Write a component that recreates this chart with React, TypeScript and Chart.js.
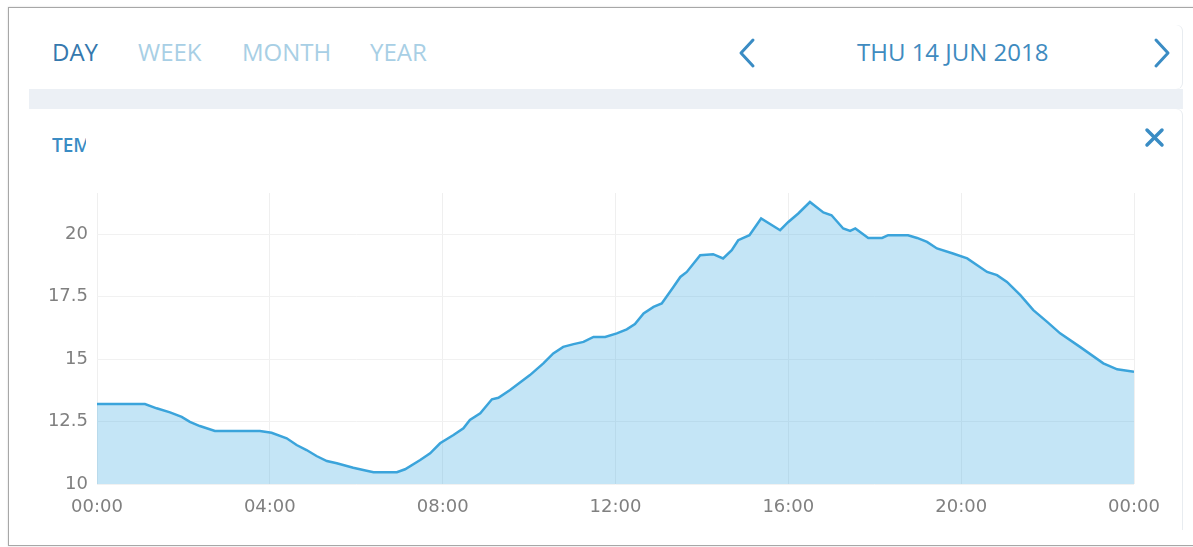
import React, { useEffect, useRef } from "react";
import { Chart, registerables } from "chart.js";

Chart.register(...registerables);

// ---- data ----
const HOURS = [
  0.0, 1.11, 1.38, 1.69, 1.96, 2.15, 2.38, 2.73, 3.77, 4.04, 4.39, 4.62, 4.85, 5.08, 5.32, 5.55, 5.93,
  6.24, 6.4, 6.94, 7.13, 7.48, 7.71, 7.94, 8.25, 8.48, 8.63, 8.87, 9.14, 9.29, 9.56, 10.02, 10.33,
  10.56, 10.79, 11.03, 11.26, 11.49, 11.76, 12.03, 12.26, 12.45, 12.65, 12.88, 13.07, 13.34, 13.5,
  13.65, 13.96, 14.26, 14.49, 14.69, 14.84, 15.1, 15.37, 15.81, 16.0, 16.23, 16.5, 16.81, 17.0, 17.27,
  17.43, 17.55, 17.85, 18.17, 18.31, 18.77, 18.98, 19.21, 19.44, 19.81, 20.14, 20.6, 20.83, 21.06,
  21.37, 21.67, 21.99, 22.29, 22.75, 23.29, 23.61, 24.0,
];
const TEMPS = [
  13.2, 13.2, 13.03, 12.87, 12.69, 12.49, 12.32, 12.12, 12.12, 12.05, 11.83, 11.56, 11.36, 11.12, 10.92,
  10.83, 10.65, 10.53, 10.47, 10.47, 10.59, 10.96, 11.23, 11.63, 11.96, 12.23, 12.56, 12.83, 13.39,
  13.45, 13.76, 14.36, 14.83, 15.23, 15.49, 15.6, 15.69, 15.89, 15.89, 16.03, 16.19, 16.4, 16.83,
  17.09, 17.23, 17.89, 18.29, 18.49, 19.16, 19.2, 19.03, 19.36, 19.76, 19.96, 20.63, 20.16, 20.49,
  20.83, 21.29, 20.87, 20.76, 20.23, 20.13, 20.23, 19.85, 19.85, 19.96, 19.96, 19.85, 19.69, 19.43,
  19.23, 19.03, 18.49, 18.36, 18.09, 17.56, 16.96, 16.49, 16.03, 15.49, 14.83, 14.59, 14.49,
];
const Y_TICKS = [10, 12.5, 15, 17.5, 20];
const X_TICK_HOURS = [0, 4, 8, 12, 16, 20, 24];
const PERIODS = ["DAY", "WEEK", "MONTH", "YEAR"];
const DATE_LABEL = "THU 14 JUN 2018";
const CARD_TITLE = "TEMPERATURE";

const fmtHour = (h: number) => String(Math.round(h) % 24).padStart(2, "0") + ":00";

function TempChart() {
  const ref = useRef<HTMLCanvasElement | null>(null);
  useEffect(() => {
    if (!ref.current) return;
    const chart = new Chart(ref.current, {
      type: "line",
      data: {
        datasets: [
          {
            data: HOURS.map((h, i) => ({ x: h, y: TEMPS[i] })),
            borderColor: "#3ba4db",
            borderWidth: 2.5,
            backgroundColor: "rgba(59,170,225,0.3)",
            fill: "start",
            pointRadius: 0,
            tension: 0,
          },
        ],
      },
      options: {
        animation: false,
        responsive: false,
        layout: { padding: { left: 20, right: 59, top: 193, bottom: 23 } },
        plugins: { legend: { display: false }, tooltip: { enabled: false } },
        scales: {
          x: {
            type: "linear",
            min: 0,
            max: 24,
            afterBuildTicks: (s: any) => {
              s.ticks = X_TICK_HOURS.map((v) => ({ value: v }));
            },
            afterFit: (s: any) => {
              s.height = 40;
            },
            ticks: {
              autoSkip: false,
              maxRotation: 0,
              padding: 13,
              color: "#808080",
              font: { family: "DejaVu Sans", size: 18 },
              callback: (v: any) => fmtHour(Number(v)),
            },
            grid: { color: "#efefef", drawTicks: false, lineWidth: 1 },
            border: { display: false },
          },
          y: {
            min: 10,
            max: 21.65,
            afterBuildTicks: (s: any) => {
              s.ticks = Y_TICKS.map((v) => ({ value: v }));
            },
            afterFit: (s: any) => {
              s.width = 77;
            },
            ticks: {
              padding: 9,
              color: "#808080",
              font: { family: "DejaVu Sans", size: 18 },
              callback: (v: any) => String(v),
            },
            grid: { color: "#f1f1f1", drawTicks: false, lineWidth: 1 },
            border: { display: false },
          },
        },
      },
    } as any);
    return () => chart.destroy();
  }, []);
  return (
    <canvas
      ref={ref}
      width={1193}
      height={547}
      style={{ position: "absolute", left: 0, top: 0, width: 1193, height: 547 }}
    />
  );
}

export default function App() {
  const blue = "#3a8cc4";
  const font = "'Open Sans', 'Noto Sans', sans-serif";
  const periodLeft = [52, 138, 242, 370];
  return (
    <div
      style={{
        position: "fixed",
        left: 0,
        top: 0,
        width: 1193,
        height: 547,
        background: "#ffffff",
        overflow: "hidden",
        fontFamily: font,
      }}
    >
      {/* outer frame */}
      <div
        style={{
          position: "absolute",
          left: 8,
          top: 7,
          width: 1200,
          height: 537,
          border: "1px solid #a7a7a7",
          boxShadow: "0 0 2px rgba(0,0,0,0.15)",
          background: "#fff",
        }}
      />
      {/* band between cards */}
      <div style={{ position: "absolute", left: 29, top: 89, width: 1154, height: 20, background: "#ecf0f5" }} />
      {/* header card */}
      <div
        style={{
          position: "absolute",
          left: 29,
          top: 25,
          width: 1153,
          height: 64,
          background: "#fff",
          borderRadius: "0 6px 6px 0",
          boxShadow: "1px 0 0 #e8ecf0",
        }}
      />
      {/* chart card */}
      <div
        style={{
          position: "absolute",
          left: 29,
          top: 109,
          width: 1153,
          height: 421,
          background: "#fff",
          borderRadius: "0 6px 0 0",
          boxShadow: "1px 0 0 #e8ecf0",
        }}
      />
      {PERIODS.map((p, i) => (
        <div
          key={p}
          style={{
            position: "absolute",
            left: periodLeft[i],
            top: 40,
            fontSize: 24,
            lineHeight: "24px",
            color: i === 0 ? "#3578ad" : "#a8cfe5",
            whiteSpace: "nowrap",
          }}
        >
          {p}
        </div>
      ))}
      <div
        style={{
          position: "absolute",
          left: 857,
          top: 40,
          fontSize: 24,
          lineHeight: "24px",
          color: "#3f8bbf",
          whiteSpace: "nowrap",
        }}
      >
        {DATE_LABEL}
      </div>
      <svg style={{ position: "absolute", left: 0, top: 0 }} width={1193} height={200}>
        <polyline points="753,40 741,53 753,66" fill="none" stroke={blue} strokeWidth={3} strokeLinecap="round" strokeLinejoin="round" />
        <polyline points="1156,40 1168,53 1156,66" fill="none" stroke={blue} strokeWidth={3} strokeLinecap="round" strokeLinejoin="round" />
        <line x1={1147} y1={130} x2={1162} y2={145} stroke={blue} strokeWidth={3.5} strokeLinecap="round" />
        <line x1={1162} y1={130} x2={1147} y2={145} stroke={blue} strokeWidth={3.5} strokeLinecap="round" />
      </svg>
      <div
        style={{
          position: "absolute",
          left: 52,
          top: 134,
          width: 34,
          overflow: "hidden",
          fontSize: 19,
          lineHeight: "22px",
          fontWeight: 600,
          color: blue,
          whiteSpace: "nowrap",
        }}
      >
        {CARD_TITLE}
      </div>
      <TempChart />
    </div>
  );
}
